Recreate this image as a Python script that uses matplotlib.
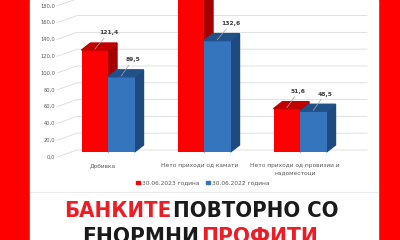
#!/usr/bin/env python3
"""Bank results 3D-style bar chart (30.06.2023 vs 30.06.2022) with headline."""

import matplotlib
matplotlib.use("Agg")
import matplotlib.pyplot as plt
import numpy as np
from matplotlib import font_manager
from matplotlib.patches import Patch, Polygon, Rectangle

CATEGORIES = ["Добивка", "Нето приходи од камати", "Нето приходи од провизии и\nнадоместоци"]
SERIES_2023 = [121.4, 215.0, 51.6]
SERIES_2022 = [89.5, 132.6, 48.5]
LABELS_2023 = ["121,4", None, "51,6"]
LABELS_2022 = ["89,5", "132,6", "48,5"]
SERIES_NAMES = ["30.06.2023 година", "30.06.2022 година"]
Y_TICKS = [0, 20, 40, 60, 80, 100, 120, 140, 160, 180]

RED = "#FF0000"
RED_TOP = "#C00000"
RED_SIDE = "#A50000"
BLUE = "#3575BD"
BLUE_TOP = "#22518A"
BLUE_SIDE = "#1E4A7E"
GRID = "#DCDCDC"
TEXT_GRAY = "#595959"

W, H = 400, 240
fig = plt.figure(figsize=(W / 100, H / 100), dpi=100)
fig.patch.set_facecolor(RED)

# white panel + headline, drawn in pixel space
bg = fig.add_axes([0, 0, 1, 1])
bg.set_xlim(0, W)
bg.set_ylim(H, 0)
bg.axis("off")
bg.add_patch(Rectangle((30, 0), 348, H, color="white", zorder=0))
bg.plot([30, 378], [192, 192], color="#EBEBEB", lw=0.8)

names = {f.name for f in font_manager.fontManager.ttflist}
if "Liberation Sans Narrow" in names:
    head_font = dict(family="Liberation Sans Narrow", fontweight="bold")
else:
    head_font = dict(family="DejaVu Sans", fontweight="bold", fontstretch="condensed")


def headline(x0, x1, y, parts):
    """Put coloured words on one line, sized to span x0..x1 pixels."""
    fs = 20.0
    probe = [bg.text(0, y, w, fontsize=fs, **head_font) for w, _ in parts]
    fig.canvas.draw()
    widths = [t.get_window_extent().width for t in probe]
    for t in probe:
        t.remove()
    gap = 3.0
    scale = (x1 - x0 - gap * (len(parts) - 1)) / sum(widths)
    fs *= scale
    pos = x0
    for (word, col), wd in zip(parts, widths):
        bg.text(pos, y, word, color=col, fontsize=fs, va="baseline", **head_font)
        pos += wd * scale + gap


headline(64, 338, 217, [("БАНКИТЕ", "#EE1C25"), ("ПОВТОРНО СО", "#1A1A1A")])
headline(82, 318, 243, [("ЕНОРМНИ", "#1A1A1A"), ("ПРОФИТИ", "#EE1C25")])

# chart axes: x = category index, y = value (front faces)
ax_l, ax_r, ax_t, ax_b = 57, 367, 0, 157
ax = fig.add_axes([ax_l / W, 1 - ax_b / H, (ax_r - ax_l) / W, (ax_b - ax_t) / H])
px_x = 96.0   # pixels per category unit
px_y = 0.84   # pixels per value unit
x_lo = -(108 - ax_l) / px_x
ax.set_xlim(x_lo, x_lo + (ax_r - ax_l) / px_x)
y_lo = -(ax_b - 152) / px_y
ax.set_ylim(y_lo, y_lo + (ax_b - ax_t) / px_y)
ax.axis("off")

dx = 9 / px_x
dy = 7 / px_y
wall_dx = 20 / px_x
lab_shift = 6.0
wall_shift = 2.4

# slanted gridlines (floor to back wall)
for v in Y_TICKS:
    y0 = v - lab_shift
    y1 = v + wall_shift
    ax.plot([x_lo, x_lo + wall_dx, ax.get_xlim()[1]], [y0, y1, y1],
            color=GRID, lw=0.6, zorder=0, clip_on=False)
    ax.text(x_lo - 2 / px_x, y0, f"{v:.1f}".replace(".", ","), ha="right", va="center",
            fontsize=3.7, color=TEXT_GRAY, clip_on=False)

x = np.arange(len(CATEGORIES))
bw = 26.5 / px_x


def bar3d(xl, val, front, top, side, z):
    ax.bar(xl, val, width=bw, align="edge", color=front, zorder=z + 1)
    xr = xl + bw
    ax.add_patch(Polygon([(xl, val), (xl + dx, val + dy), (xr + dx, val + dy), (xr, val)],
                         closed=True, color=top, zorder=z + 1))
    ax.add_patch(Polygon([(xr, 0), (xr + dx, dy), (xr + dx, val + dy), (xr, val)],
                         closed=True, color=side, zorder=z))


for i in range(len(CATEGORIES)):
    bar3d(x[i] - bw, SERIES_2023[i], RED, RED_TOP, RED_SIDE, 2)
    bar3d(x[i], SERIES_2022[i], BLUE, BLUE_TOP, BLUE_SIDE, 4)

# value labels with leader lines
for i in range(len(CATEGORIES)):
    for xc, val, lab in ((x[i] - bw / 2, SERIES_2023[i], LABELS_2023[i]),
                         (x[i] + bw / 2, SERIES_2022[i], LABELS_2022[i])):
        if lab is None:
            continue
        ax.annotate(lab, xy=(xc, val + 1), xytext=(3, 10),
                    textcoords="offset points", fontsize=4.3, fontweight="bold",
                    color="#404040", ha="left", va="bottom", zorder=6,
                    arrowprops=dict(arrowstyle="-", color="#A6A6A6", lw=0.5,
                                    shrinkA=0, shrinkB=0))

# category labels
for i, cat in enumerate(CATEGORIES):
    ax.text(x[i] - 0.05, y_lo - 6 / px_y, cat, ha="center", va="top", fontsize=4.2,
            color=TEXT_GRAY, linespacing=1.5, clip_on=False)

handles = [Patch(color=RED), Patch(color=BLUE)]
fig.legend(handles, SERIES_NAMES, loc="center", bbox_to_anchor=(203 / W, 1 - 183 / H),
           ncol=2, frameon=False, fontsize=4.2, handlelength=0.6, handleheight=0.6,
           handletextpad=0.4, columnspacing=1.2, labelcolor=TEXT_GRAY)

fig.savefig("out.png", dpi=100, facecolor=fig.get_facecolor())
